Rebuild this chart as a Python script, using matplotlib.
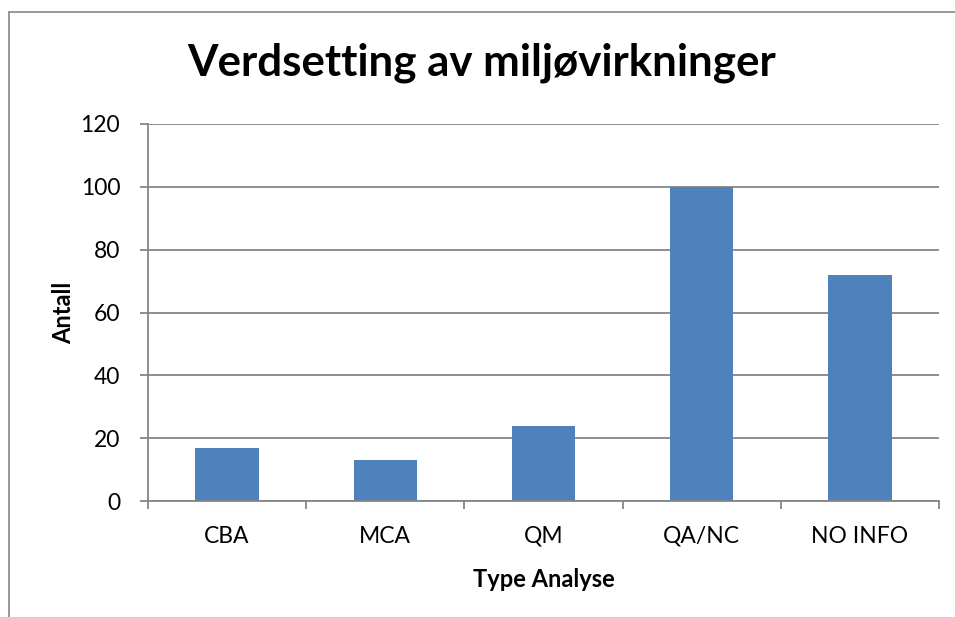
import matplotlib
matplotlib.use("Agg")
import matplotlib.pyplot as plt
import matplotlib.lines as lines

plt.rcParams['font.family'] = ['Lato', 'DejaVu Sans']

# data
categories = ["CBA", "MCA", "QM", "QA/NC", "NO INFO"]
counts = [17, 13, 24, 100, 72]
y_ticks = [0, 20, 40, 60, 80, 100, 120]

W, H = 955, 617
fig = plt.figure(figsize=(W / 100, H / 100), dpi=100)

# plot area in pixel coordinates of the reference
left, right, top, bottom = 148, 939, 124, 501
ax = fig.add_axes([left / W, 1 - bottom / H, (right - left) / W, (bottom - top) / H])

grid_col = "#868686"
bar_col = "#4F81BD"

x = list(range(len(categories)))
ax.bar(x, counts, width=0.4, color=bar_col, zorder=3)

ax.set_xlim(-0.5, len(categories) - 0.5)
ax.set_ylim(0, 120)
ax.set_yticks(y_ticks)
ax.set_yticklabels([str(t) for t in y_ticks])
ax.yaxis.grid(True, color=grid_col, linewidth=1.3, zorder=0)

# category boundaries as ticks, labels centred between them
ax.set_xticks([i - 0.5 for i in range(len(categories) + 1)])
ax.set_xticklabels([])
ax.set_xticks(x, minor=True)
ax.set_xticklabels(categories, minor=True)
ax.tick_params(axis='x', which='major', length=6, width=1.3, color=grid_col, direction='out')
ax.tick_params(axis='x', which='minor', length=0, pad=18, labelsize=16.5)
ax.tick_params(axis='y', length=6, width=1.3, color=grid_col, direction='out', pad=14, labelsize=16.5)

for s in ['top', 'right']:
    ax.spines[s].set_visible(False)
for s in ['left', 'bottom']:
    ax.spines[s].set_color(grid_col)
    ax.spines[s].set_linewidth(1.3)
    ax.spines[s].set_zorder(4)

ax.set_xlabel("Type Analyse", fontsize=17, fontweight='bold', labelpad=15)
ax.set_ylabel("Antall", fontsize=17, fontweight='bold', labelpad=4)

fig.text(482 / W, 1 - 63 / H, "Verdsetting av miljøvirkninger",
         ha='center', va='center', fontsize=31.6, fontweight='bold')

# chart frame (left and top edge visible in the crop)
fig.add_artist(lines.Line2D([8.5 / W, 8.5 / W], [0, 1 - 12 / H], transform=fig.transFigure,
                            color="#888888", linewidth=1.2))
fig.add_artist(lines.Line2D([8.5 / W, 1], [1 - 12 / H, 1 - 12 / H], transform=fig.transFigure,
                            color="#888888", linewidth=1.2))

fig.savefig("out.png", dpi=100)
